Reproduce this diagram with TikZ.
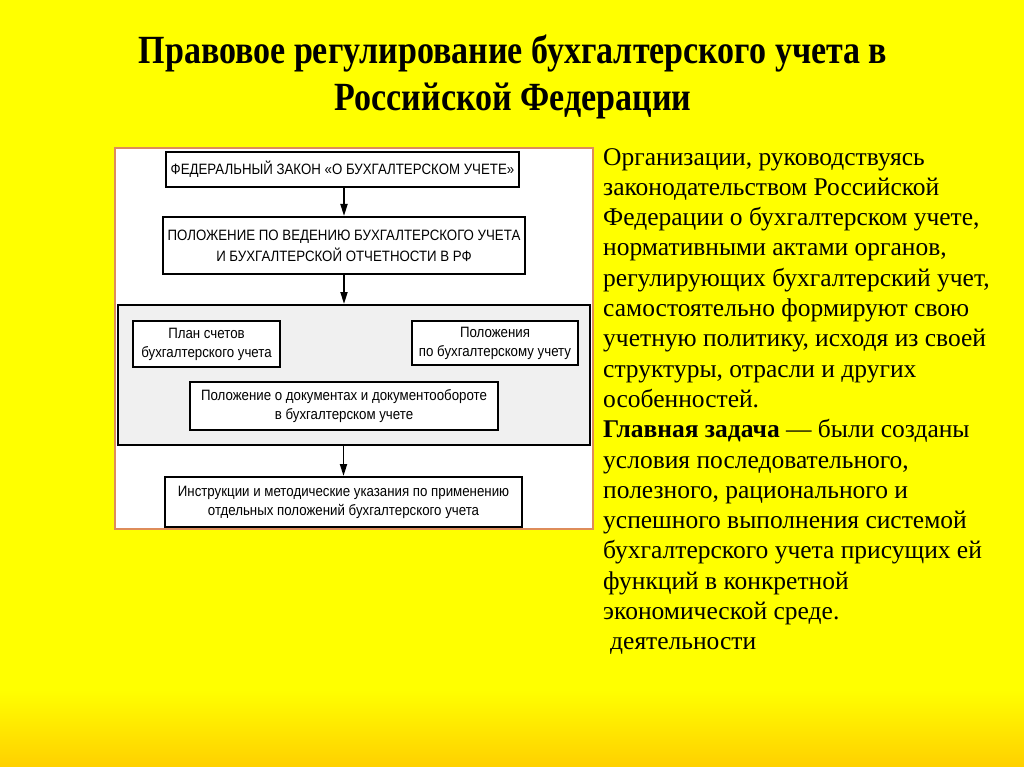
\documentclass[tikz,border=0pt]{standalone}
\usepackage{fontspec}
\setmainfont{Liberation Serif}
\newfontfamily\diagfont[FakeStretch=0.885]{Liberation Sans}
\newfontfamily\titlefont[FakeStretch=0.85]{Liberation Serif}
\usetikzlibrary{arrows.meta}
\definecolor{bgyellow}{RGB}{255,255,0}
\definecolor{bggold}{RGB}{255,208,0}
\definecolor{framecol}{RGB}{222,140,90}
\definecolor{grpfill}{RGB}{240,240,240}
\tikzset{
  docbox/.style={draw=black, line width=2pt, fill=white, inner sep=2pt, align=center,
    font=\diagfont\fontsize{15}{19}\selectfont},
  grpbox/.style={draw=black, line width=2pt, fill=grpfill, inner sep=0pt},
  flow/.style={line width=1.8pt, -{Triangle[length=12pt,width=7pt]}},
}
\begin{document}
\begin{tikzpicture}[x=1pt,y=-1pt]
\useasboundingbox (0,0) rectangle (1024,767);
\fill[bgyellow] (0,0) rectangle (1024,767);
\shade[top color=bgyellow, bottom color=bggold] (0,690) rectangle (1024,767);
% title
\node[anchor=north, align=center, inner sep=0pt,
  font=\titlefont\bfseries\fontsize{40}{46.5}\selectfont] (title) at (513,35)
  {Правовое регулирование бухгалтерского учета в\\Российской Федерации};
% picture frame
\node[draw=framecol, line width=1.5pt, fill=white, minimum width=478pt, minimum height=381pt,
  inner sep=0pt] (frame) at (354,338.5) {};
% boxes
\node[docbox, minimum width=353pt, minimum height=35pt] (b1) at (342.5,169.5)
  {ФЕДЕРАЛЬНЫЙ ЗАКОН «О БУХГАЛТЕРСКОМ УЧЕТЕ»};
\node[docbox, minimum width=362pt, minimum height=57pt,
  font=\diagfont\fontsize{15}{21}\selectfont] (b2) at (344,245.5)
  {ПОЛОЖЕНИЕ ПО ВЕДЕНИЮ БУХГАЛТЕРСКОГО УЧЕТА\\И БУХГАЛТЕРСКОЙ ОТЧЕТНОСТИ В РФ};
\node[grpbox, minimum width=472pt, minimum height=140pt] (grp) at (354,375) {};
\node[docbox, minimum width=147pt, minimum height=46pt] (b3) at (206.5,344)
  {План счетов\\бухгалтерского учета};
\node[docbox, minimum width=166pt, minimum height=44pt] (b4) at (495,343)
  {Положения\\по бухгалтерскому учету};
\node[docbox, minimum width=308pt, minimum height=48pt] (b5) at (344,406)
  {Положение о документах и документообороте\\в бухгалтерском учете};
\node[docbox, minimum width=357pt, minimum height=50pt] (b6) at (343.5,502)
  {Инструкции и методические указания по применению\\отдельных положений бухгалтерского учета};
% arrows
\draw[flow] (b1.south -| 344,0) -- (b2.north -| 344,0);
\draw[flow] (b2.south) -- (b2.south |- grp.north);
\draw[flow] (grp.south -| b6.north) -- (b6.north);
% right text
\node[anchor=north west, align=left, inner sep=0pt,
  font=\fontsize{25.5}{30.3}\selectfont] (txt) at (603,148)
  {Организации, руководствуясь\\
   законодательством Российской\\
   Федерации о бухгалтерском учете,\\
   нормативными актами органов,\\
   регулирующих бухгалтерский учет,\\
   самостоятельно формируют свою\\
   учетную политику, исходя из своей\\
   структуры, отрасли и других\\
   особенностей.\\
   \textbf{Главная задача} — были созданы\\
   условия последовательного,\\
   полезного, рационального и\\
   успешного выполнения системой\\
   бухгалтерского учета присущих ей\\
   функций в конкретной\\
   экономической среде.\\
   \hspace*{7pt}деятельности};
\end{tikzpicture}
\end{document}
